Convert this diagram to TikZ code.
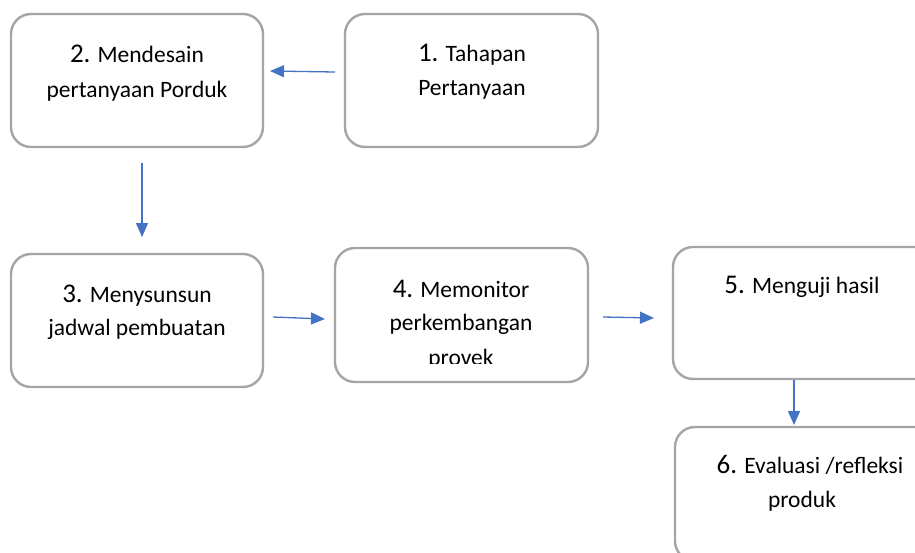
\documentclass[tikz,border=0pt]{standalone}
\usepackage{fontspec}
\setmainfont{Carlito}
\usetikzlibrary{arrows.meta}
\definecolor{boxgray}{HTML}{A5A5A5}
\definecolor{arrowblue}{HTML}{4472C4}
\tikzset{
  stepbox/.style={draw=boxgray, line width=2.4pt, rounded corners=20pt, fill=white},
  lbl/.style={anchor=base, inner sep=0pt, font=\fontsize{23.5}{28}\selectfont},
  flow/.style={draw=arrowblue, line width=1.3pt, -{Triangle[length=14pt,width=12pt]}}
}
\newcommand{\stepnum}[1]{{\fontsize{27}{31}\selectfont #1}}
\begin{document}
\begin{tikzpicture}[x=1pt,y=-1pt]
  \useasboundingbox (0,0) rectangle (915,552);
  \clip (0,0) rectangle (915,552);

  % boxes
  \draw[stepbox] (11,14) rectangle (263,147);
  \draw[stepbox] (345,14) rectangle (598,147);
  \draw[stepbox] (11,254) rectangle (263,387);
  \draw[stepbox] (335,248) rectangle (588,382);
  \draw[stepbox] (673,247) rectangle (940,379);
  \draw[stepbox] (675,427) rectangle (940,561);

  % labels
  \node[lbl] (t2a) at (137,62) {\stepnum{2.} Mendesain};
  \node[lbl] (t2b) at (137,97) {pertanyaan Porduk};
  \node[lbl] (t1a) at (472,61) {\stepnum{1.} Tahapan};
  \node[lbl] (t1b) at (472,95) {Pertanyaan};
  \node[lbl] (t3a) at (137,302) {\stepnum{3.} Menysunsun};
  \node[lbl] (t3b) at (137,335) {jadwal pembuatan};
  \begin{scope}
    \clip (335,248) rectangle (588,363.5);
    \node[lbl] (t4a) at (461,297) {\stepnum{4.} Memonitor};
    \node[lbl] (t4b) at (461,330) {perkembangan};
    \node[lbl] (t4c) at (461,365) {provek};
  \end{scope}
  \node[lbl] (t5a) at (802,293) {\stepnum{5.} Menguji hasil};
  \node[lbl] (t6a) at (810,473) {\stepnum{6.} Evaluasi /refleksi};
  \node[lbl] (t6b) at (802,507) {produk};

  % connector end points
  \coordinate (a1s) at (335,72);  \coordinate (a1e) at (270,71);
  \coordinate (a2s) at (142,163); \coordinate (a2e) at (142,237);
  \coordinate (a3s) at (273,317); \coordinate (a3e) at (325,319);
  \coordinate (a4s) at (603,317); \coordinate (a4e) at (654,318);
  \coordinate (a5s) at (794,380); \coordinate (a5e) at (794,425);

  \draw[flow] (a1s) -- (a1e);
  \draw[flow] (a2s) -- (a2e);
  \draw[flow] (a3s) -- (a3e);
  \draw[flow] (a4s) -- (a4e);
  \draw[flow] (a5s) -- (a5e);
\end{tikzpicture}
\end{document}
